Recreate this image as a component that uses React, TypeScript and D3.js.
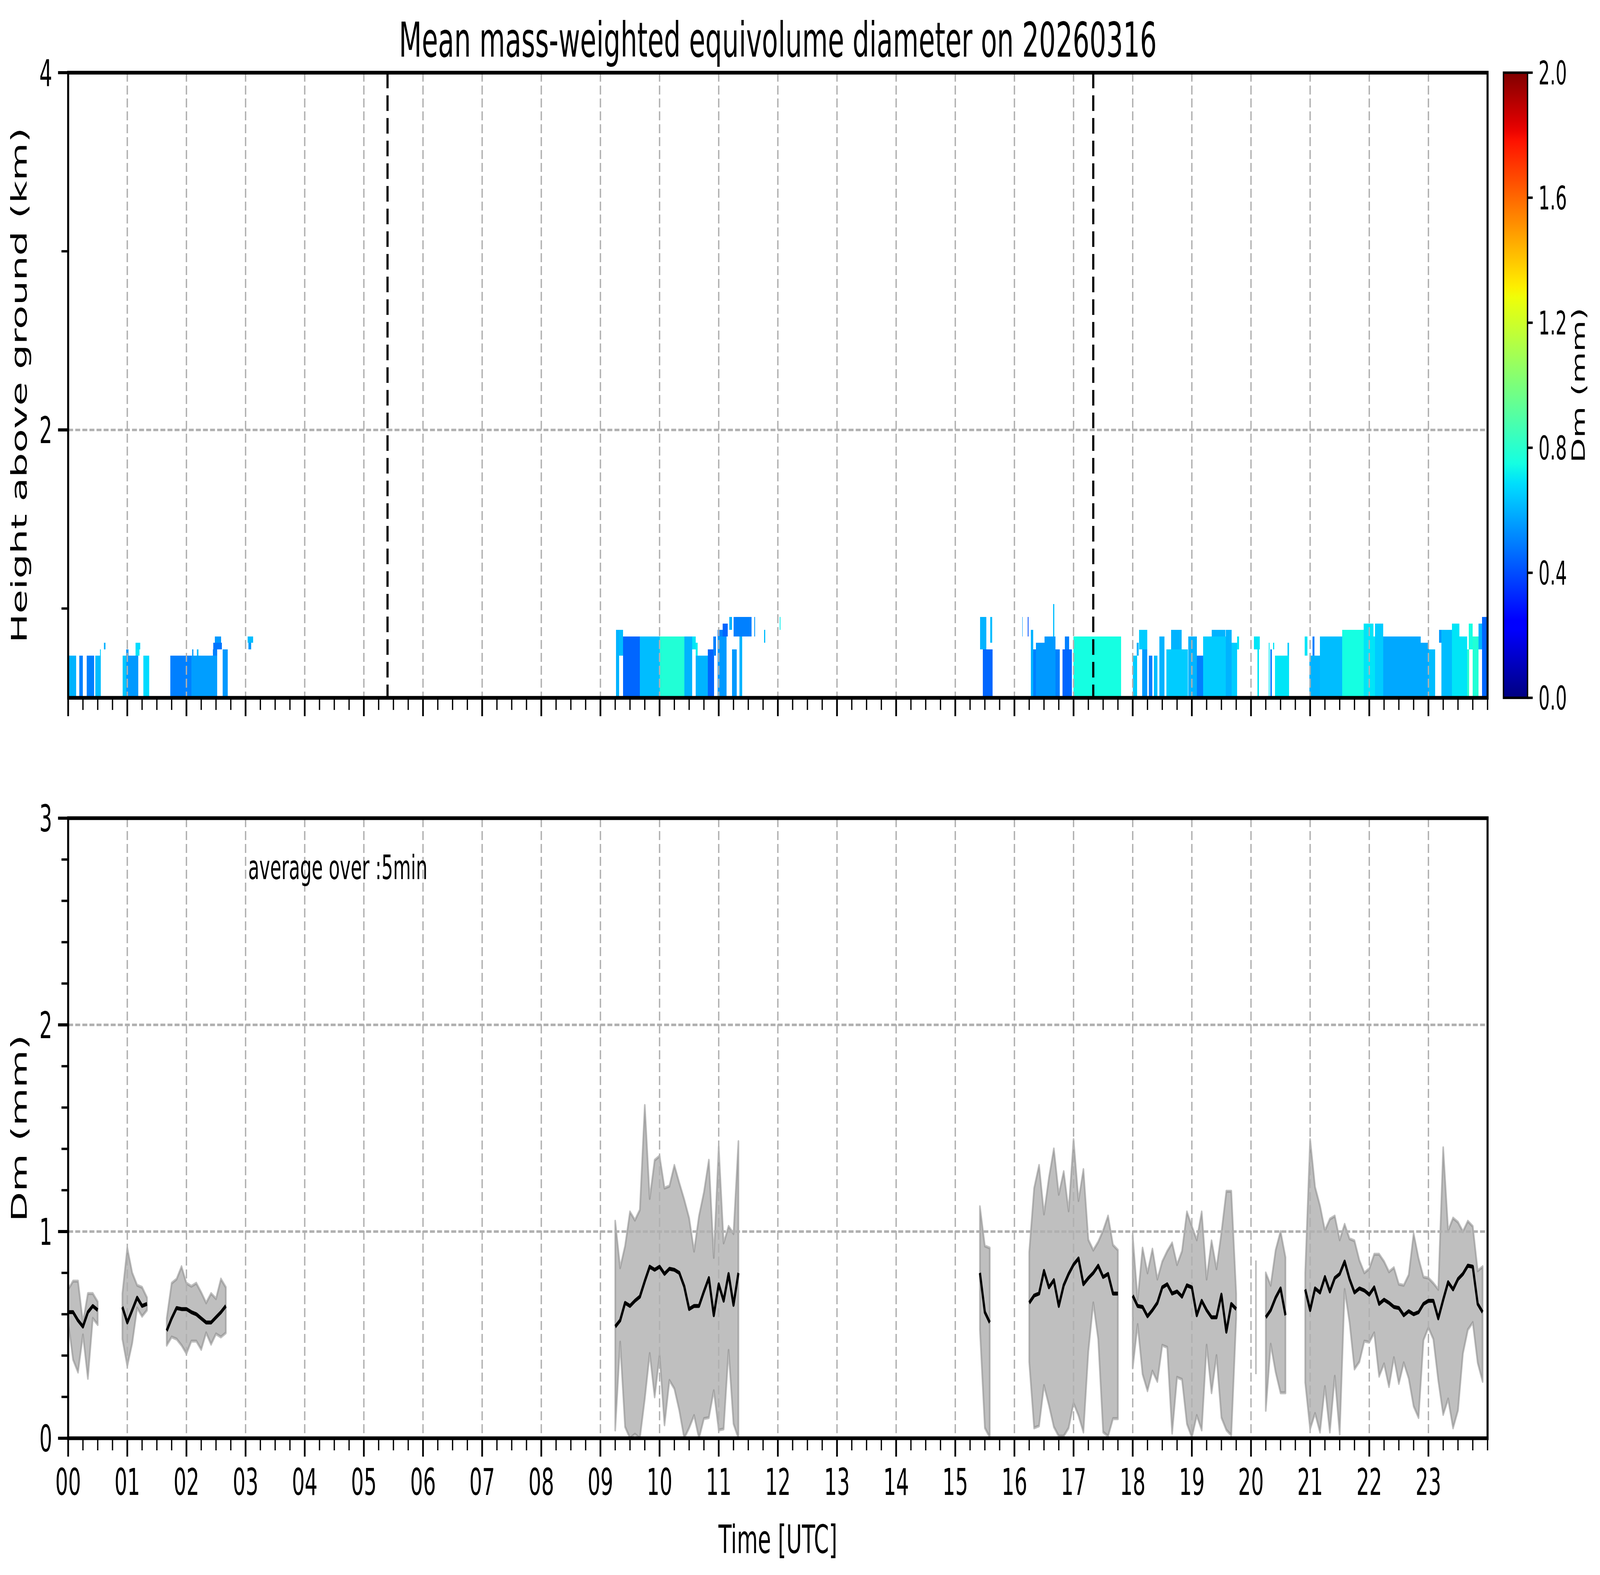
import React from "react";
import * as d3 from "d3";

// ---------------- data ----------------
// Heatmap runs: time span in minutes since 00:00 UTC, range-gate span (index), Dm (mm)
const heatStartMin = [0, 11.2, 18.7, 27.4, 32.4, 36.2, 55.1, 58.7, 61.3, 68.4, 68.4, 76.3, 103.5, 125, 126, 130.5, 146.7, 147.2, 148.9, 156.7, 182, 183,
  556, 559, 563, 580, 600, 625, 633, 636.7, 636.7, 649, 654.4, 659, 659, 664, 670.9, 673.4, 681, 675, 696, 706, 721.8,
  925.2, 927.8, 935.5, 967.8, 973.5, 976.5, 979.1, 981.7, 990.4, 999.1, 1001.7, 1008.7, 1011.3, 1020,
  1080, 1084, 1086.6, 1089.6, 1096.5, 1101.4, 1107, 1114.2, 1119.1, 1136.5, 1145.2, 1151.3, 1160, 1174.4, 1180.3, 1186, 1203, 1206.4, 1218, 1219.5, 1222.5, 1224.2, 1237,
  1254.6, 1259.1, 1262.6, 1270, 1292.5, 1314.3, 1324.2, 1325.9, 1334.2, 1372.2, 1380.3, 1390.8, 1393, 1403.8, 1411.6, 1419.5, 1421, 1424.7, 1430.8, 1434.2];
const heatEndMin = [8.2, 15, 26.5, 33.2, 33.2, 37.9, 58.7, 61.3, 71.3, 73.3, 72.5, 82.1, 125, 151, 127.2, 132.2, 151, 155.9, 155, 161.9, 187.5, 185.6,
  559, 563, 580, 600, 625, 633, 636.7, 649, 638.5, 655.4, 657.1, 668, 664, 669.3, 673.4, 678.1, 684, 693.5, 697, 707, 722.5,
  931.3, 938, 937.5, 968.5, 974.3, 979.1, 981.7, 990.4, 1001.7, 1000.5, 1006.1, 1018.3, 1015.6, 1068.2,
  1084.3, 1086, 1094.8, 1094.8, 1100, 1104.9, 1112.2, 1136, 1129.5, 1145.2, 1151.3, 1174.4, 1174, 1180.3, 1186.1, 1187.8, 1209, 1208, 1219, 1221, 1223.5, 1238.6, 1238.6,
  1257.4, 1270, 1264.3, 1292.5, 1314.3, 1324.2, 1325.9, 1334.2, 1372.2, 1380.3, 1386.8, 1393, 1403.8, 1411.6, 1419.5, 1421.2, 1424.7, 1430.8, 1434.2, 1440];
const heatGateLo = [0, 0, 0, 0, 7, 8, 0, 0, 0, 8, 7, 0, 0, 0, 7, 7, 7, 8, 9, 0, 9, 8,
  0, 7, 0, 0, 0, 0, 8, 0, 7, 0, 7, 0, 10, 10, 11, 0, 0, 10, 10, 9, 11,
  8, 0, 9, 10, 10, 0, 0, 0, 0, 10, 0, 0, 8, 0,
  0, 7, 8, 0, 0, 0, 0, 0, 8, 0, 0, 0, 10, 0, 0, 8, 8, 0, 0, 0, 8, 0, 7,
  7, 0, 7, 0, 0, 0, 0, 0, 0, 0, 0, 9, 0, 0, 0, 0, 8, 0, 8, 0];
const heatGateHi = [6, 6, 6, 6, 7, 8, 6, 7, 6, 8, 7, 6, 6, 6, 7, 7, 7, 8, 9, 7, 9, 8,
  10, 10, 9, 9, 9, 9, 9, 6, 8, 7, 9, 9, 10, 11, 12, 7, 9, 12, 12, 10, 12,
  12, 7, 12, 12, 12, 10, 7, 8, 9, 14, 7, 7, 9, 9,
  6, 8, 10, 7, 6, 6, 9, 7, 10, 9, 6, 9, 10, 10, 8, 9, 9, 7, 8, 7, 8, 6, 8,
  9, 6, 9, 9, 10, 11, 9, 11, 9, 8, 7, 10, 10, 11, 9, 7, 11, 9, 11, 12];
const heatDm = [0.6, 0.5, 0.5, 0.62, 0.65, 0.6, 0.64, 0.55, 0.55, 0.68, 0.7, 0.68, 0.5, 0.56, 0.55, 0.62, 0.5, 0.48, 0.55, 0.55, 0.62, 0.55,
  0.6, 0.62, 0.45, 0.62, 0.78, 0.6, 0.7, 0.6, 0.72, 0.45, 0.5, 0.55, 0.5, 0.45, 0.6, 0.55, 0.6, 0.5, 0.55, 0.62, 0.72,
  0.6, 0.45, 0.62, 0.55, 0.4, 0.6, 0.5, 0.55, 0.55, 0.62, 0.5, 0.45, 0.5, 0.75,
  0.65, 0.6, 0.65, 0.55, 0.5, 0.62, 0.6, 0.65, 0.6, 0.6, 0.5, 0.65, 0.6, 0.6, 0.65, 0.7, 0.7, 0.7, 0.7, 0.5, 0.7, 0.7, 0.65,
  0.7, 0.6, 0.5, 0.62, 0.75, 0.7, 0.7, 0.65, 0.58, 0.58, 0.62, 0.55, 0.62, 0.7, 0.7, 0.8, 0.75, 0.78, 0.6, 0.45];
const firstGateKm = 0.5;
const gateKm = 0.0362;

// 5-min averages: segment starts (minutes) and values per segment
const segStartMin = [0, 55, 100, 555, 925, 975, 1080, 1205, 1215, 1255];
const dmMean = [
  [0.61, 0.61, 0.57, 0.54, 0.61, 0.64, 0.62],
  [0.635, 0.56, 0.62, 0.68, 0.64, 0.65],
  [0.52, 0.58, 0.63, 0.625, 0.625, 0.61, 0.6, 0.58, 0.56, 0.56, 0.585, 0.61, 0.64],
  [0.54, 0.57, 0.655, 0.64, 0.665, 0.685, 0.76, 0.83, 0.815, 0.83, 0.795, 0.82, 0.815, 0.8, 0.735, 0.625, 0.64, 0.64, 0.71, 0.775, 0.595, 0.745, 0.665, 0.795, 0.645, 0.8],
  [0.8, 0.61, 0.56],
  [0.655, 0.69, 0.7, 0.81, 0.73, 0.765, 0.64, 0.74, 0.795, 0.84, 0.87, 0.745, 0.775, 0.8, 0.835, 0.78, 0.795, 0.7, 0.7],
  [0.69, 0.64, 0.635, 0.59, 0.62, 0.655, 0.73, 0.745, 0.7, 0.71, 0.685, 0.74, 0.73, 0.595, 0.665, 0.62, 0.585, 0.585, 0.695, 0.515, 0.65, 0.625],
  [0.59],
  [0.585, 0.62, 0.68, 0.725, 0.595],
  [0.72, 0.62, 0.725, 0.705, 0.78, 0.71, 0.775, 0.795, 0.855, 0.77, 0.705, 0.725, 0.715, 0.695, 0.73, 0.65, 0.67, 0.655, 0.635, 0.63, 0.595, 0.615, 0.6, 0.61, 0.65, 0.665, 0.665, 0.58, 0.67, 0.755, 0.72, 0.77, 0.795, 0.835, 0.83, 0.65, 0.61],
];
const dmHigh = [
  [0.72, 0.76, 0.76, 0.56, 0.7, 0.7, 0.66],
  [0.7, 0.92, 0.8, 0.74, 0.73, 0.68],
  [0.58, 0.75, 0.77, 0.83, 0.75, 0.735, 0.75, 0.705, 0.655, 0.7, 0.675, 0.77, 0.73],
  [1.05, 0.825, 0.93, 1.095, 1.055, 1.105, 1.61, 1.16, 1.345, 1.365, 1.21, 1.22, 1.32, 1.235, 1.155, 1.065, 0.905, 1.075, 1.19, 1.345, 0.875, 1.41, 0.945, 1.025, 0.99, 1.435],
  [1.12, 0.93, 0.92],
  [0.9, 1.21, 1.32, 1.085, 1.26, 1.4, 1.18, 1.29, 1.1, 1.445, 1.15, 1.3, 0.96, 0.91, 0.95, 1.005, 1.075, 0.935, 0.91],
  [0.98, 0.67, 0.92, 0.8, 0.915, 0.77, 0.855, 0.905, 0.945, 0.84, 0.905, 1.095, 1.025, 0.96, 1.095, 0.77, 0.955, 0.82, 0.995, 1.195, 1.195, 0.7],
  [0.86],
  [0.8, 0.74, 0.91, 1.0, 0.875],
  [0.8, 1.445, 1.215, 1.125, 1.005, 1.06, 1.075, 0.96, 1.035, 0.965, 0.955, 0.86, 0.8, 0.82, 0.89, 0.89, 0.855, 0.805, 0.825, 0.745, 0.74, 0.79, 0.99, 0.87, 0.78, 0.775, 0.75, 0.72, 1.405, 1.005, 1.065, 1.045, 1.0, 1.05, 1.025, 0.81, 0.83],
];
const dmLow = [
  [0.56, 0.38, 0.32, 0.5, 0.29, 0.58, 0.55],
  [0.48, 0.35, 0.46, 0.63, 0.59, 0.62],
  [0.45, 0.49, 0.48, 0.45, 0.41, 0.47, 0.47, 0.43, 0.51, 0.455, 0.505, 0.49, 0.51],
  [0.04, 0.465, 0.055, 0, 0.02, 0, 0.19, 0.41, 0.2, 0.4, 0.065, 0.28, 0.24, 0.135, 0, 0.05, 0.11, 0, 0.095, 0.1, 0.23, 0.04, 0.045, 0.425, 0.07, 0],
  [0.525, 0.05, 0.005],
  [0.37, 0.05, 0.06, 0.255, 0.16, 0.055, 0.01, 0.01, 0.05, 0.17, 0.11, 0.03, 0.42, 0.655, 0.48, 0.03, 0.01, 0.095, 0.095],
  [0.34, 0.55, 0.31, 0.23, 0.325, 0.275, 0.45, 0.44, 0.025, 0.295, 0.285, 0.07, 0.005, 0.11, 0.04, 0.45, 0.22, 0.4, 0.1, 0.04, 0.015, 0.58],
  [0.31],
  [0.135, 0.455, 0.32, 0.22, 0.22],
  [0.27, 0.045, 0.12, 0.03, 0.25, 0.03, 0.3, 0.02, 0.72, 0.56, 0.335, 0.37, 0.47, 0.465, 0.51, 0.3, 0.36, 0.25, 0.39, 0.265, 0.365, 0.29, 0.155, 0.1, 0.475, 0.535, 0.48, 0.28, 0.115, 0.19, 0.05, 0.135, 0.41, 0.525, 0.56, 0.365, 0.275],
];
const stepMin = 5;

const hourLabels = ["00","01","02","03","04","05","06","07","08","09","10","11","12","13","14","15","16","17","18","19","20","21","22","23"];
const topYMajor = [2, 4];
const topYMinor = [1, 3];
const botYMajor = [0, 1, 2, 3];
const cbTicks = [0, 0.4, 0.8, 1.2, 1.6, 2.0];
const markerHours = [5.4, 17.333];
const titleText = "Mean mass-weighted equivolume diameter on 20260316";

// ---------------- layout ----------------
const W = 7442, H = 4031;
const L = 317, R = 6919;
const topY0 = 186, topY1 = 1786;
const botY0 = 2094, botY1 = 3681;
const cbX0 = 6993, cbX1 = 7105;
const FONT = "'DejaVu Sans', sans-serif";
const SPINE = 9.5;
const GRID = "#b0b0b0";

const x = d3.scaleLinear().domain([0, 1440]).range([L, R]);
const yTop = d3.scaleLinear().domain([0.5, 4]).range([topY1, topY0]);
const yBot = d3.scaleLinear().domain([0, 3]).range([botY1, botY0]);
const yCb = d3.scaleLinear().domain([0, 2]).range([topY1, topY0]);

const jetR = d3.scaleLinear().domain([0, 0.35, 0.66, 0.89, 1]).range([0, 0, 1, 1, 0.5]).clamp(true);
const jetG = d3.scaleLinear().domain([0, 0.125, 0.375, 0.64, 0.91, 1]).range([0, 0, 1, 1, 0, 0]).clamp(true);
const jetB = d3.scaleLinear().domain([0, 0.11, 0.34, 0.65, 1]).range([0.5, 1, 1, 0, 0]).clamp(true);
const dmNorm = d3.scaleLinear().domain([0, 2]).range([0, 1]).clamp(true);
function jet(t: number) {
  return `rgb(${Math.round(jetR(t) * 255)},${Math.round(jetG(t) * 255)},${Math.round(jetB(t) * 255)})`;
}

export default function App() {
  React.useEffect(() => {
    document.documentElement.style.margin = "0";
    document.documentElement.style.overflow = "hidden";
    document.body.style.margin = "0";
    document.body.style.overflow = "hidden";
  }, []);

  const minorMins = d3.range(0, 1441, 15).filter((m) => m % 60 !== 0).concat([1440]);
  const majorMins = hourLabels.map((_, i) => i * 60);
  const botYMinor = d3.range(1, 15).map((i) => i * 0.2).filter((v) => Math.abs(v - Math.round(v)) > 1e-6);

  const area = d3.area<number>();
  const line = d3.line<number>();

  const xTicks = (yAxis: number) => (
    <g>
      {majorMins.map((m) => (
        <line key={"M" + m} x1={x(m)} x2={x(m)} y1={yAxis} y2={yAxis + 47} stroke="#000" strokeWidth={8} />
      ))}
      {minorMins.map((m) => (
        <line key={"m" + m} x1={x(m)} x2={x(m)} y1={yAxis} y2={yAxis + 31} stroke="#000" strokeWidth={6} />
      ))}
    </g>
  );

  const vGrid = (y0: number, y1: number) =>
    majorMins.slice(1).map((m) => (
      <line key={"g" + m} x1={x(m)} x2={x(m)} y1={y0} y2={y1} stroke={GRID} strokeWidth={6.3} strokeDasharray="23,10" />
    ));

  const stops = d3.range(0, 65).map((i) => i / 64);

  return (
    <div style={{ position: "fixed", left: 0, top: 0, width: "100vw", height: "100vh", overflow: "hidden", background: "#fff" }}>
      <svg viewBox={`0 0 ${W} ${H}`} preserveAspectRatio="none" xmlns="http://www.w3.org/2000/svg"
        style={{ display: "block", width: "100vw", height: "100vh", background: "#fff" }}>
        <defs>
          <clipPath id="clipTop">
            <rect x={L} y={topY0} width={R - L} height={topY1 - topY0} />
          </clipPath>
          <clipPath id="clipBot">
            <rect x={L} y={botY0} width={R - L} height={botY1 - botY0} />
          </clipPath>
          <linearGradient id="jetGrad" x1="0" y1="1" x2="0" y2="0">
            {stops.map((t) => (
              <stop key={t} offset={t} stopColor={jet(t)} />
            ))}
          </linearGradient>
        </defs>
        <rect x={0} y={0} width={W} height={H} fill="#fff" />

        {/* title */}
        <text x={(L + R) / 2} y={145} fontFamily={FONT} fontSize={123} textAnchor="middle">{titleText}</text>

        {/* ---------- top panel ---------- */}
        <g clipPath="url(#clipTop)">
          {heatStartMin.map((s, i) => {
            const x0 = x(s), x1 = x(heatEndMin[i]);
            const yA = yTop(firstGateKm + (heatGateHi[i] + 0.5) * gateKm);
            const yB = yTop(firstGateKm + (heatGateLo[i] - 0.5) * gateKm);
            return (
              <rect key={"h" + i} x={x0} y={yA} width={Math.max(1, x1 - x0)} height={yB - yA}
                fill={jet(dmNorm(heatDm[i]))} shapeRendering="crispEdges" />
            );
          })}
        </g>
        {vGrid(topY0, topY1)}
        {topYMajor.map((v) => (
          <line key={"tg" + v} x1={L} x2={R} y1={yTop(v)} y2={yTop(v)} stroke={GRID} strokeWidth={6.3} strokeDasharray="23,10" />
        ))}
        {markerHours.map((h) => (
          <line key={"mk" + h} x1={x(h * 60)} x2={x(h * 60)} y1={topY0} y2={topY1} stroke="#000" strokeWidth={10} strokeDasharray="40,18" />
        ))}
        <rect x={L} y={topY0} width={R - L} height={topY1 - topY0} fill="none" stroke="#000" strokeWidth={SPINE} />
        {xTicks(topY1)}
        {topYMajor.map((v) => (
          <g key={"ty" + v}>
            <line x1={L - 47} x2={L} y1={yTop(v)} y2={yTop(v)} stroke="#000" strokeWidth={8} />
            <text x={243} y={yTop(v) + 34} fontFamily={FONT} fontSize={94} textAnchor="end">{v}</text>
          </g>
        ))}
        {topYMinor.map((v) => (
          <line key={"tym" + v} x1={L - 31} x2={L} y1={yTop(v)} y2={yTop(v)} stroke="#000" strokeWidth={6} />
        ))}
        <text transform={`translate(124, ${(topY0 + topY1) / 2}) rotate(-90)`} fontFamily={FONT} fontSize={100} textAnchor="middle">Height above ground (km)</text>

        {/* colorbar */}
        <rect x={cbX0} y={topY0} width={cbX1 - cbX0} height={topY1 - topY0} fill="url(#jetGrad)" />
        <rect x={cbX0} y={topY0} width={cbX1 - cbX0} height={topY1 - topY0} fill="none" stroke="#000" strokeWidth={6.3} />
        {cbTicks.map((v) => (
          <g key={"cb" + v}>
            <line x1={cbX1} x2={cbX1 + 24} y1={yCb(v)} y2={yCb(v)} stroke="#000" strokeWidth={6.3} />
            <text x={7156} y={yCb(v) + 30} fontFamily={FONT} fontSize={83}>{v.toFixed(1)}</text>
          </g>
        ))}
        <text transform={`translate(7372, ${(topY0 + topY1) / 2}) rotate(-90)`} fontFamily={FONT} fontSize={83} textAnchor="middle">Dm (mm)</text>

        {/* ---------- bottom panel ---------- */}
        <g clipPath="url(#clipBot)">
          {segStartMin.map((s, si) => {
            const n = dmMean[si].length;
            const ts = d3.range(n).map((i) => s + i * stepMin);
            if (n === 1) {
              return (
                <line key={"b" + si} x1={x(ts[0])} x2={x(ts[0])} y1={yBot(dmLow[si][0])} y2={yBot(dmHigh[si][0])}
                  stroke="rgb(128,128,128)" strokeOpacity={0.5} strokeWidth={7.8} />
              );
            }
            const idx = d3.range(n);
            const dPath = area.x((i) => x(ts[i])).y0((i) => yBot(dmLow[si][i])).y1((i) => yBot(dmHigh[si][i]))(idx) || "";
            return (
              <path key={"b" + si} d={dPath} fill="rgb(128,128,128)" fillOpacity={0.5}
                stroke="rgb(128,128,128)" strokeOpacity={0.5} strokeWidth={7.8} strokeLinejoin="round" />
            );
          })}
        </g>
        {vGrid(botY0, botY1)}
        {[1, 2].map((v) => (
          <line key={"bg" + v} x1={L} x2={R} y1={yBot(v)} y2={yBot(v)} stroke={GRID} strokeWidth={6.3} strokeDasharray="23,10" />
        ))}
        <g clipPath="url(#clipBot)">
          {segStartMin.map((s, si) => {
            const n = dmMean[si].length;
            if (n < 2) return null;
            const idx = d3.range(n);
            const dPath = line.x((i) => x(s + i * stepMin)).y((i) => yBot(dmMean[si][i]))(idx) || "";
            return <path key={"l" + si} d={dPath} fill="none" stroke="#000" strokeWidth={10} strokeLinejoin="round" />;
          })}
        </g>
        <rect x={L} y={botY0} width={R - L} height={botY1 - botY0} fill="none" stroke="#000" strokeWidth={SPINE} />
        {xTicks(botY1)}
        {majorMins.map((m, i) => (
          <text key={"xl" + m} x={x(m)} y={3826} fontFamily={FONT} fontSize={94} textAnchor="middle">{hourLabels[i]}</text>
        ))}
        {botYMajor.map((v) => (
          <g key={"by" + v}>
            <line x1={L - 47} x2={L} y1={yBot(v)} y2={yBot(v)} stroke="#000" strokeWidth={8} />
            <text x={243} y={yBot(v) + 34} fontFamily={FONT} fontSize={94} textAnchor="end">{v}</text>
          </g>
        ))}
        {botYMinor.map((v) => (
          <line key={"bym" + v} x1={L - 31} x2={L} y1={yBot(v)} y2={yBot(v)} stroke="#000" strokeWidth={6} />
        ))}
        <text transform={`translate(124, ${(botY0 + botY1) / 2}) rotate(-90)`} fontFamily={FONT} fontSize={100} textAnchor="middle">Dm (mm)</text>
        <text x={1154} y={2250} fontFamily={FONT} fontSize={85}>average over :5min</text>
        <text x={(L + R) / 2} y={3975} fontFamily={FONT} fontSize={100} textAnchor="middle">Time [UTC]</text>
      </svg>
    </div>
  );
}
